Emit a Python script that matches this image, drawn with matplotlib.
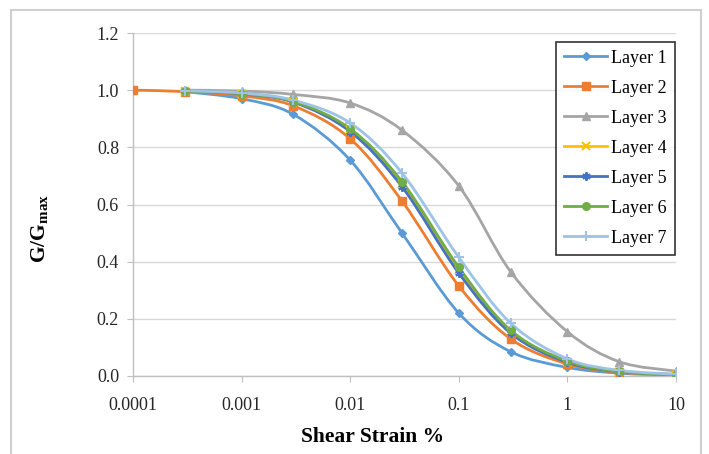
import numpy as np
import matplotlib
matplotlib.use("Agg")
from matplotlib import pyplot as plt
from matplotlib.path import Path
from matplotlib.patches import PathPatch
from matplotlib.lines import Line2D

plt.rcParams['font.family'] = ['Liberation Serif', 'DejaVu Serif']
plt.rcParams['mathtext.fontset'] = 'custom'
plt.rcParams['mathtext.rm'] = 'Liberation Serif'
plt.rcParams['mathtext.bf'] = 'Liberation Serif:bold'

strain = [0.0001, 0.0003, 0.001, 0.003, 0.01, 0.03, 0.1, 0.3, 1, 3, 10]

layer1 = [None, 0.995, 0.970, 0.915, 0.755, 0.500, 0.220, 0.085, 0.030, 0.010, 0.003]
layer2 = [1.000, 0.995, 0.980, 0.945, 0.830, 0.612, 0.315, 0.130, 0.042, 0.013, 0.004]
layer3 = [None, 1.000, 0.997, 0.985, 0.955, 0.860, 0.665, 0.365, 0.155, 0.050, 0.017]
layer4 = [None, 0.997, 0.988, 0.960, 0.860, 0.670, 0.370, 0.155, 0.050, 0.015, 0.005]
layer5 = [None, 0.997, 0.987, 0.958, 0.855, 0.662, 0.360, 0.150, 0.048, 0.015, 0.005]
layer6 = [None, 0.997, 0.988, 0.960, 0.865, 0.680, 0.380, 0.160, 0.052, 0.016, 0.005]
layer7 = [None, 0.998, 0.990, 0.965, 0.885, 0.710, 0.415, 0.185, 0.060, 0.020, 0.006]

labels = ["Layer 1", "Layer 2", "Layer 3", "Layer 4", "Layer 5", "Layer 6", "Layer 7"]
series = [layer1, layer2, layer3, layer4, layer5, layer6, layer7]
colors = ["#5B9BD5", "#ED7D31", "#A5A5A5", "#FFC000", "#4472C4", "#70AD47", "#9DC3E6"]
markers = ["D", "s", "^", "x", (6, 2, 0), "o", "+"]
msizes = [4.5, 6, 6, 6, 6, 5.5, 7]


def smooth_path(xs, ys):
    """Excel-like smoothed line: cubic Bezier through points (in log-x space)."""
    lx = np.log10(xs)
    pts = np.column_stack([lx, ys])
    n = len(pts)
    verts = [pts[0]]
    codes = [Path.MOVETO]
    for i in range(n - 1):
        p0 = pts[i - 1] if i > 0 else pts[i]
        p1 = pts[i]
        p2 = pts[i + 1]
        p3 = pts[i + 2] if i + 2 < n else pts[i + 1]
        c1 = p1 + (p2 - p0) / 6.0
        c2 = p2 - (p3 - p1) / 6.0
        verts += [c1, c2, p2]
        codes += [Path.CURVE4] * 3
    verts = np.array(verts)
    verts[:, 0] = 10 ** verts[:, 0]
    return Path(verts, codes)


fig = plt.figure(figsize=(7.09, 4.54), dpi=100)
ax = fig.add_axes([133 / 709, 1 - 376 / 454, (676 - 133) / 709, (376 - 33) / 454])
ax.set_xscale("log")

handles = []
for lab, vals, c, m, ms in zip(labels, series, colors, markers, msizes):
    xs = np.array([x for x, v in zip(strain, vals) if v is not None])
    ys = np.array([v for v in vals if v is not None])
    patch = PathPatch(smooth_path(xs, ys), facecolor="none", edgecolor=c, lw=2.0, zorder=3)
    ax.add_patch(patch)
    mew = 1.5 if m in ("x", "+") or isinstance(m, tuple) else 1.0
    ax.plot(xs, ys, linestyle="none", marker=m, color=c, markersize=ms,
            markeredgewidth=mew, zorder=4)
    handles.append(Line2D([], [], color=c, lw=2.0, marker=m, markersize=ms,
                          markeredgewidth=mew))

ax.set_xlim(0.0001, 10)
ax.set_ylim(0, 1.2)
ax.set_xticks([0.0001, 0.001, 0.01, 0.1, 1, 10])
ax.set_xticklabels(["0.0001", "0.001", "0.01", "0.1", "1", "10"])
ax.xaxis.set_minor_locator(matplotlib.ticker.NullLocator())
ax.set_yticks(np.arange(0, 1.21, 0.2))
ax.set_yticklabels([f"{v:.1f}" for v in np.arange(0, 1.21, 0.2)])
ax.tick_params(axis="both", labelsize=13, colors="#262626", length=4, width=0.8)
ax.tick_params(axis="both", color="#BFBFBF")
ax.xaxis.set_tick_params(pad=11)
ax.yaxis.set_tick_params(pad=6)

ax.grid(axis="y", color="#D9D9D9", lw=1.0, zorder=0)
ax.set_axisbelow(True)
for s in ["top", "right"]:
    ax.spines[s].set_visible(False)
for s in ["left", "bottom"]:
    ax.spines[s].set_color("#BFBFBF")
    ax.spines[s].set_linewidth(1.0)

ax.set_xlabel("Shear Strain %", fontsize=15.5, fontweight="bold", va="center")
ax.set_ylabel(r"G/G$_{\mathbf{max}}$", fontsize=15.5, fontweight="bold", va="center")
ax.xaxis.set_label_coords((373 - 133) / 543, (376 - 437) / 343)
ax.yaxis.set_label_coords((40 - 133) / 543, (376 - 228) / 343)

leg = ax.legend(handles, labels, loc="upper right", bbox_to_anchor=(0.998, 0.975),
                fontsize=13, frameon=True, fancybox=False, handlelength=2.4,
                borderpad=0.45, labelspacing=0.72, handletextpad=0.2,
                borderaxespad=0)
leg.get_frame().set_edgecolor("black")
leg.get_frame().set_linewidth(1.2)

# outer chart border
fig.add_artist(Line2D([11 / 709, 11 / 709], [0, 1 - 10 / 454], color="#D0D0D0", lw=1.5,
                      transform=fig.transFigure))
fig.add_artist(Line2D([11 / 709, 701 / 709], [1 - 10 / 454, 1 - 10 / 454], color="#D0D0D0",
                      lw=1.5, transform=fig.transFigure))
fig.add_artist(Line2D([701 / 709, 701 / 709], [0, 1 - 10 / 454], color="#D0D0D0", lw=1.5,
                      transform=fig.transFigure))

fig.savefig("out.png", dpi=100)
